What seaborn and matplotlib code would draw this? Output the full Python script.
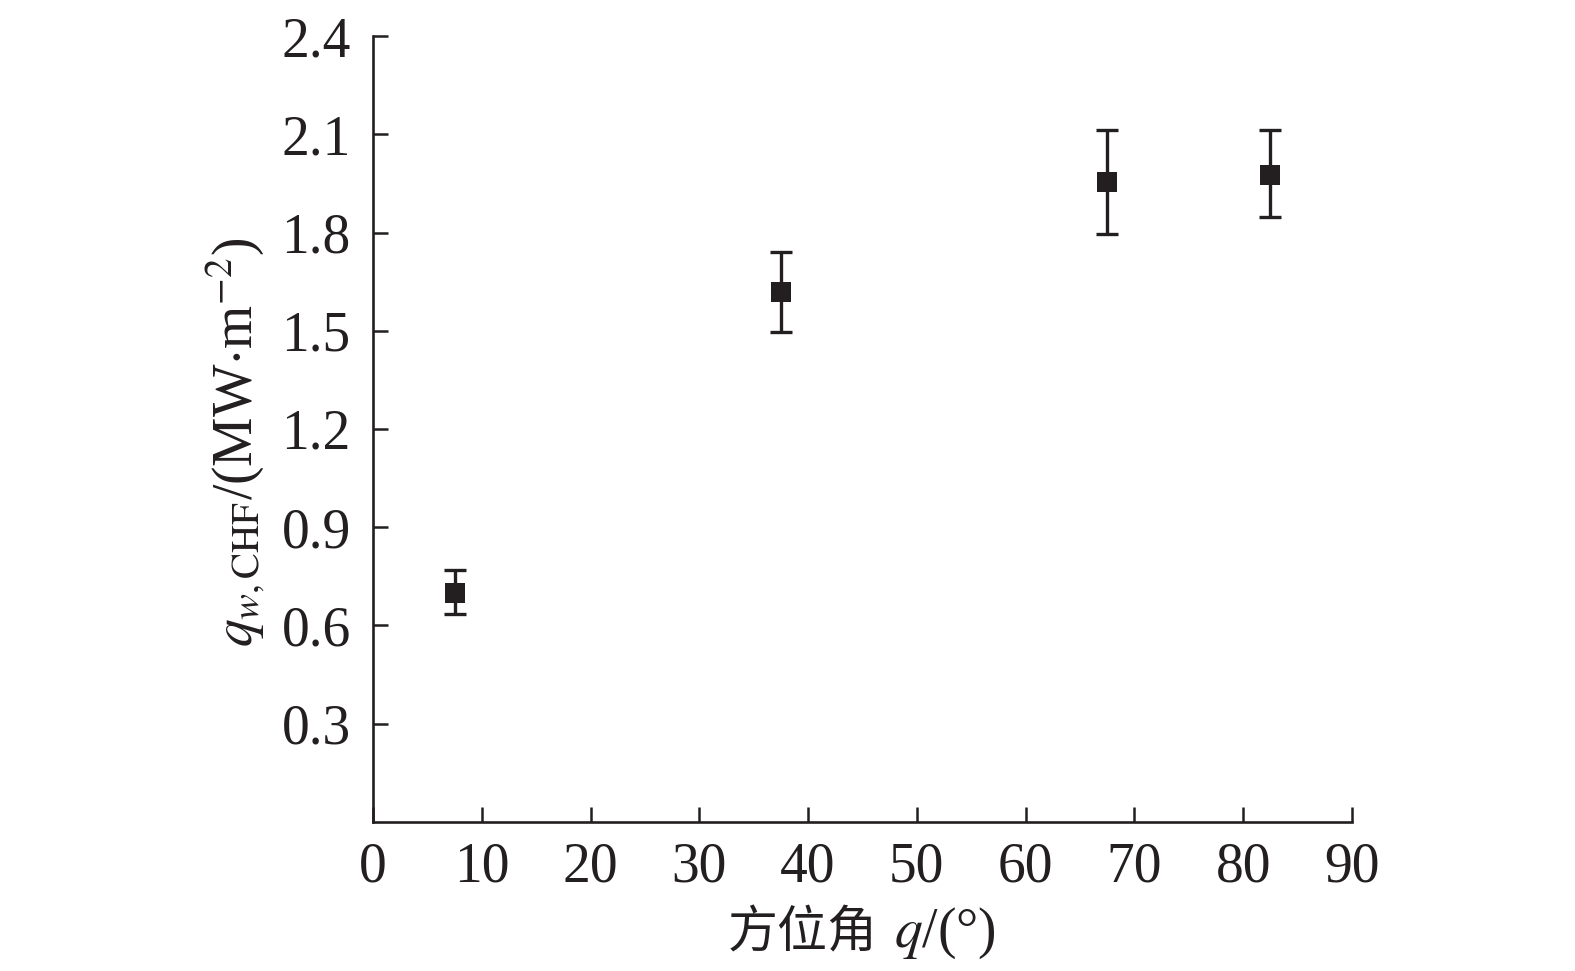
import numpy as np
import pandas as pd
import matplotlib
matplotlib.use('Agg')
import matplotlib.pyplot as plt
from matplotlib.offsetbox import TextArea, HPacker, AnchoredOffsetbox
import seaborn as sns

# data
angle = [7.5, 37.5, 67.5, 82.5]
chf = [0.70, 1.617, 1.953, 1.977]
err_low = [0.066, 0.122, 0.159, 0.131]
err_high = [0.068, 0.123, 0.159, 0.135]

x_ticks = [0, 10, 20, 30, 40, 50, 60, 70, 80, 90]
y_ticks = [0.3, 0.6, 0.9, 1.2, 1.5, 1.8, 2.1, 2.4]

sns.set_style('ticks')
plt.rcParams['font.family'] = ['Liberation Serif', 'Noto Sans CJK SC']
plt.rcParams['mathtext.fontset'] = 'stix'

ink = '#231f20'
fs = 40
df = pd.DataFrame({'angle': angle, 'chf': chf})

fig = plt.figure(figsize=(15.75, 9.71), dpi=100)
ax = fig.add_axes([0.2368, 0.1535, 0.6216, 0.8094])

ax.errorbar(angle, chf, yerr=[err_low, err_high], fmt='none',
            ecolor=ink, elinewidth=2.4, capsize=8, capthick=2.4, zorder=2)
sns.scatterplot(data=df, x='angle', y='chf', marker='s', s=200,
                color=ink, edgecolor=ink, linewidth=0, ax=ax, zorder=3)

ax.set_xlim(0, 90)
ax.set_ylim(0, 2.4)
ax.set_xticks(x_ticks)
ax.set_yticks(y_ticks)
ax.set_yticklabels([f'{v:.1f}' for v in y_ticks])
ax.tick_params(direction='in', length=11, width=1.8, labelsize=fs,
               colors=ink)
ax.tick_params(axis='y', pad=16)
ax.tick_params(axis='x', pad=14)
for side in ['top', 'right']:
    ax.spines[side].set_visible(False)
for side in ['left', 'bottom']:
    ax.spines[side].set_linewidth(1.9)
    ax.spines[side].set_color(ink)

ax.set_xlabel('')
ax.set_ylabel(r'$q_{w,\mathrm{CHF}}$/(MW$\cdot$m$^{-2}$)', fontsize=fs,
              color=ink)
ax.yaxis.set_label_coords(-0.108, 0.483)

# x label: CJK part and math part packed side by side
cjk = TextArea('方位角', textprops=dict(family='Noto Sans CJK SC', fontsize=36, color=ink))
rest = TextArea('$q$/(°)', textprops=dict(fontsize=fs, color=ink))
pack = HPacker(children=[cjk, rest], align='baseline', pad=0, sep=12)
box = AnchoredOffsetbox(loc='upper center', child=pack, frameon=False,
                        bbox_to_anchor=(0.547, 0.067), bbox_transform=fig.transFigure,
                        borderpad=0, pad=0)
fig.add_artist(box)

fig.savefig('out.png', dpi=100)
